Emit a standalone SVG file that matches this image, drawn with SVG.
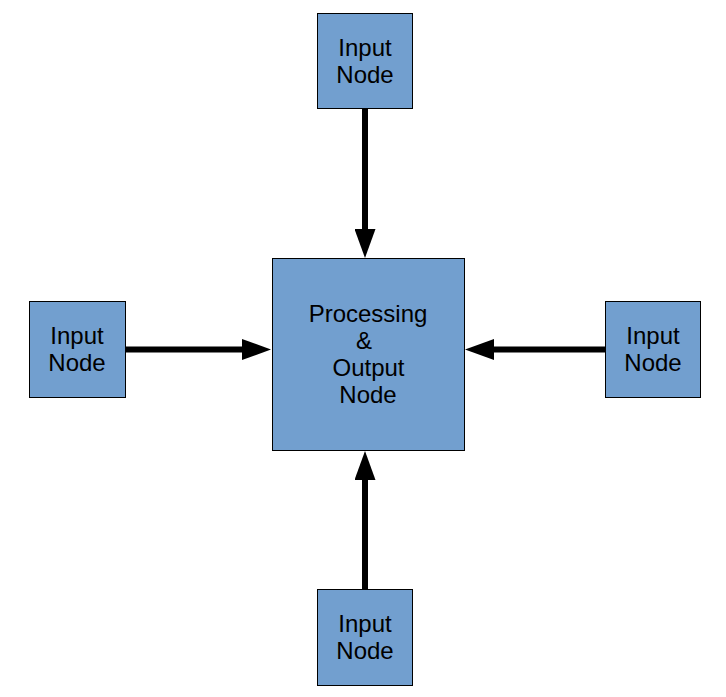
<svg xmlns="http://www.w3.org/2000/svg" width="726" height="697" viewBox="0 0 726 697">
<style>
.box{fill:#729fcf;stroke:#000;stroke-width:1}
.t{font-family:"Liberation Sans",Arial,sans-serif;font-size:24px;fill:#000;text-anchor:middle}
.c{stroke:#000;stroke-width:6;fill:none;marker-end:url(#ah)}
</style>
<defs>
<marker id="ah" markerUnits="userSpaceOnUse" markerWidth="30" markerHeight="21" refX="14" refY="10.5" orient="auto" viewBox="0 0 30 21">
<path d="M0,0 L29,10.5 L0,21 Z" fill="#000"/>
</marker>
</defs>
<rect width="726" height="697" fill="#fff"/>
<g id="connectors">
<line class="c" x1="365" y1="109" x2="365" y2="243"/>
<line class="c" x1="125" y1="349.5" x2="256" y2="349.5"/>
<line class="c" x1="605" y1="349.5" x2="480" y2="349.5"/>
<line class="c" x1="365" y1="589" x2="365" y2="466"/>
</g>
<g id="center">
<rect class="box" x="272.5" y="258.5" width="192" height="192"/>
<text class="t" x="368" y="322">Processing</text>
<text class="t" x="364" y="349">&amp;</text>
<text class="t" x="368.5" y="376">Output</text>
<text class="t" x="368" y="403">Node</text>
</g>
<g id="top">
<rect class="box" x="317.5" y="13.5" width="95" height="95"/>
<text class="t" x="365" y="56">Input</text>
<text class="t" x="365" y="83">Node</text>
</g>
<g id="left">
<rect class="box" x="29.5" y="301.5" width="96" height="96"/>
<text class="t" x="77" y="344">Input</text>
<text class="t" x="77" y="371">Node</text>
</g>
<g id="right">
<rect class="box" x="605.5" y="301.5" width="95" height="96"/>
<text class="t" x="653" y="344">Input</text>
<text class="t" x="653" y="371">Node</text>
</g>
<g id="bottom">
<rect class="box" x="317.5" y="589.5" width="95" height="96"/>
<text class="t" x="365" y="632">Input</text>
<text class="t" x="365" y="659">Node</text>
</g>
</svg>
